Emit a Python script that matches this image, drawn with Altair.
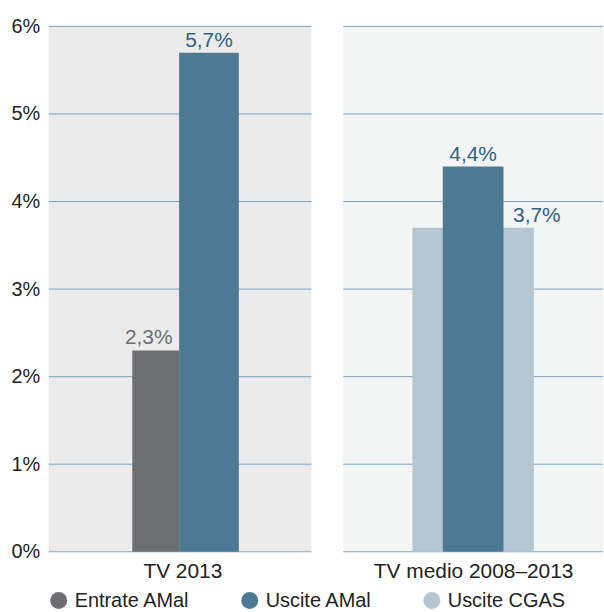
import altair as alt
import pandas as pd

# ---- data ----
groups = ["TV 2013", "TV 2013", "TV medio 2008–2013", "TV medio 2008–2013"]
series = ["Entrate AMal", "Uscite AMal", "Uscite CGAS", "Uscite AMal"]
values = [2.3, 5.7, 3.7, 4.4]
legend_order = ["Entrate AMal", "Uscite AMal", "Uscite CGAS"]
colors = ["#6d6e71", "#4c7a95", "#b3c6d2"]
y_ticks = [0, 1, 2, 3, 4, 5, 6]

df = pd.DataFrame({"group": groups, "series": series, "value": values})
df["label"] = df["value"].map(lambda v: f"{v:.1f}".replace(".", ",") + "%")
ticks_df = pd.DataFrame({"tick": y_ticks})

FONT = "Liberation Sans"
GRID = "#7aa3c2"
BLUE_TXT = "#2f6283"

color_enc = alt.Color(
    "series:N",
    scale=alt.Scale(domain=legend_order, range=colors),
    legend=alt.Legend(title=None, orient="bottom", direction="horizontal",
                      symbolType="circle", symbolSize=290, labelFontSize=20,
                      labelFont=FONT, labelColor="#222222", columnPadding=50,
                      labelOffset=6, padding=0, offset=9),
)

left_axis = alt.Axis(values=y_ticks, labelExpr="datum.value + '%'",
                     title=None, ticks=False, domain=False, grid=False,
                     labelFontSize=20, labelFont=FONT,
                     labelColor="#222222", labelPadding=9)
y_left = alt.Y("value:Q", scale=alt.Scale(domain=[0, 6]), axis=left_axis)
y_right = alt.Y("value:Q", scale=alt.Scale(domain=[0, 6]), axis=None)


def grid_layer(axis):
    return alt.Chart(ticks_df).mark_rule(color=GRID, strokeWidth=1).encode(
        y=alt.Y("tick:Q", scale=alt.Scale(domain=[0, 6]), axis=axis))


# ---- left panel ----
left_df = df[df["group"] == groups[0]]
x_left = alt.X("series:N",
               scale=alt.Scale(domain=["Entrate AMal", "Uscite AMal"], paddingInner=0,
                               paddingOuter=0, range=[80.75, 187.75]),
               axis=alt.Axis(labels=False, ticks=False, domain=False, grid=False,
                             title=groups[0], titleFontSize=21, titleFont=FONT,
                             titleFontWeight="normal", titleColor="#222222", titlePadding=9))
lbase = alt.Chart(left_df).encode(x=x_left, y=y_left)
l_gray = lbase.transform_filter(alt.datum.series == "Entrate AMal").mark_bar(width=47).encode(color=color_enc)
l_blue = lbase.transform_filter(alt.datum.series == "Uscite AMal").mark_bar(width=60).encode(color=color_enc)
l_txt_gray = lbase.transform_filter(alt.datum.series == "Entrate AMal").mark_text(
    baseline="alphabetic", dy=-6, dx=-7, fontSize=21, font=FONT, color="#6d6e71").encode(text="label:N")
l_txt_blue = lbase.transform_filter(alt.datum.series == "Uscite AMal").mark_text(
    baseline="alphabetic", dy=-6, fontSize=21, font=FONT, color=BLUE_TXT).encode(text="label:N")
left = alt.layer(grid_layer(left_axis), l_gray, l_blue, l_txt_gray, l_txt_blue).properties(
    width=264, height=528, view=alt.ViewBackground(fill="#ebebeb", stroke=None))

# ---- right panel ----
right_df = df[df["group"] == groups[2]]
x_right = alt.X("group:N", scale=alt.Scale(paddingInner=0, paddingOuter=0),
                axis=alt.Axis(labels=False, ticks=False, domain=False, grid=False,
                              title=groups[2], titleFontSize=21, titleFont=FONT,
                              titleFontWeight="normal", titleColor="#222222", titlePadding=9))
rbase = alt.Chart(right_df).encode(x=x_right, y=y_right)
r_cgas = rbase.transform_filter(alt.datum.series == "Uscite CGAS").mark_bar(width=122).encode(color=color_enc)
r_amal = rbase.transform_filter(alt.datum.series == "Uscite AMal").mark_bar(width=61).encode(color=color_enc)
r_txt_cgas = rbase.transform_filter(alt.datum.series == "Uscite CGAS").mark_text(
    baseline="alphabetic", dy=-6, dx=64, fontSize=21, font=FONT, color=BLUE_TXT).encode(text="label:N")
r_txt_amal = rbase.transform_filter(alt.datum.series == "Uscite AMal").mark_text(
    baseline="alphabetic", dy=-6, fontSize=21, font=FONT, color=BLUE_TXT).encode(text="label:N")
right = alt.layer(grid_layer(None), r_cgas, r_amal, r_txt_cgas, r_txt_amal).properties(
    width=261, height=528, view=alt.ViewBackground(fill="#f3f5f5", stroke=None))

chart = alt.hconcat(left, right, spacing=30).properties(
    padding={"left": 11, "top": 15, "right": 0, "bottom": 0},
    background="white",
).configure_view(stroke=None)

chart.save("out.html", embed_options={"renderer": "svg", "actions": False})
